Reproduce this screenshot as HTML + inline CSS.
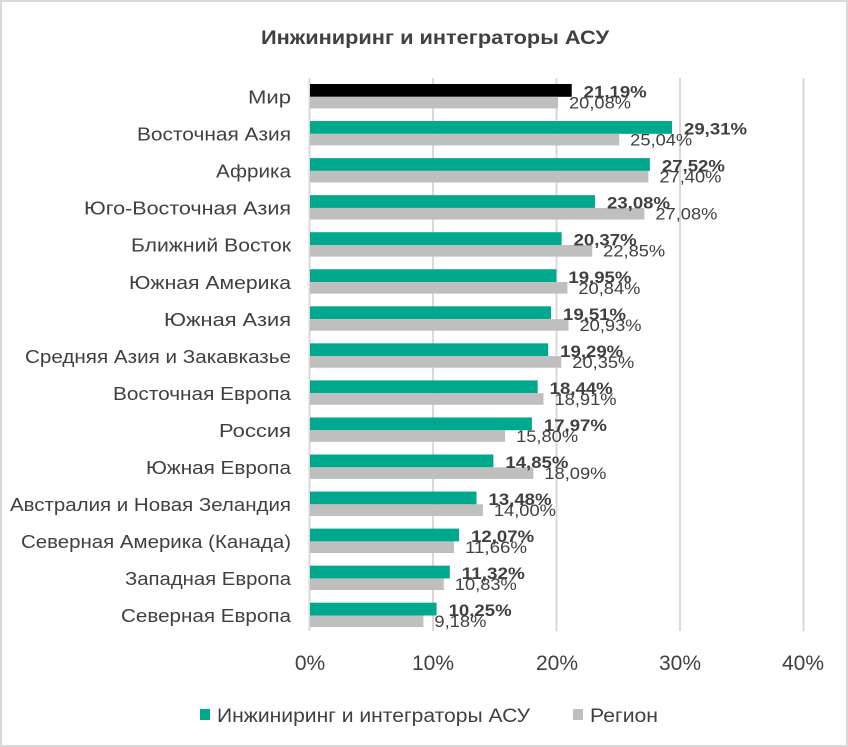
<!DOCTYPE html>
<html><head><meta charset="utf-8"><style>
html,body{margin:0;padding:0;background:#fff;}
svg{display:block;font-family:"Liberation Sans","Noto Sans CJK SC",sans-serif;}
.c{font-size:18px;fill:#404040;text-anchor:end;}
.b{font-size:17px;font-weight:bold;fill:#404040;}
.g{font-size:17px;fill:#404040;}
</style></head><body>
<svg width="848" height="747" viewBox="0 0 848 747" xmlns="http://www.w3.org/2000/svg">
<rect x="1" y="1" width="846" height="745" fill="#fff" stroke="#d9d9d9" stroke-width="2"/>
<text x="435" y="44" text-anchor="middle" font-size="19" font-weight="bold" fill="#404040" textLength="348" lengthAdjust="spacingAndGlyphs">Инжиниринг и интеграторы АСУ</text>
<g stroke="#d9d9d9" stroke-width="2">
<line x1="309.5" y1="78" x2="309.5" y2="631"/>
<line x1="433" y1="78" x2="433" y2="631"/>
<line x1="556.5" y1="78" x2="556.5" y2="631"/>
<line x1="680" y1="78" x2="680" y2="631"/>
<line x1="803.5" y1="78" x2="803.5" y2="631"/>
</g>
<g font-size="21" fill="#404040" text-anchor="middle">
<text x="310" y="670">0%</text><text x="433" y="670">10%</text><text x="557" y="670">20%</text><text x="680" y="670">30%</text><text x="803" y="670">40%</text>
</g>

<g transform="translate(0,84)"><rect x="310" y="0" width="261.7" height="12.8" fill="#000"/><rect x="310" y="12.8" width="248" height="11.6" fill="#bfbfbf"/><text class="c" x="291" y="19.5" textLength="43" lengthAdjust="spacingAndGlyphs">Мир</text><text class="b" x="583.7" y="13.5" textLength="63" lengthAdjust="spacingAndGlyphs">21,19%</text><text class="g" x="569" y="24.5" textLength="62" lengthAdjust="spacingAndGlyphs">20,08%</text></g>
<g transform="translate(0,121.05)"><rect x="310" y="0" width="362" height="12.8" fill="#00a88e"/><rect x="310" y="12.8" width="309.2" height="11.6" fill="#bfbfbf"/><text class="c" x="291" y="19.5" textLength="154" lengthAdjust="spacingAndGlyphs">Восточная Азия</text><text class="b" x="684" y="13.5" textLength="63" lengthAdjust="spacingAndGlyphs">29,31%</text><text class="g" x="630.2" y="24.5" textLength="62" lengthAdjust="spacingAndGlyphs">25,04%</text></g>
<g transform="translate(0,158.1)"><rect x="310" y="0" width="339.9" height="12.8" fill="#00a88e"/><rect x="310" y="12.8" width="338.4" height="11.6" fill="#bfbfbf"/><text class="c" x="291" y="19.5" textLength="75" lengthAdjust="spacingAndGlyphs">Африка</text><text class="b" x="661.9" y="13.5" textLength="63" lengthAdjust="spacingAndGlyphs">27,52%</text><text class="g" x="659.4" y="24.5" textLength="62" lengthAdjust="spacingAndGlyphs">27,40%</text></g>
<g transform="translate(0,195.15)"><rect x="310" y="0" width="285" height="12.8" fill="#00a88e"/><rect x="310" y="12.8" width="334.4" height="11.6" fill="#bfbfbf"/><text class="c" x="291" y="19.5" textLength="207" lengthAdjust="spacingAndGlyphs">Юго-Восточная Азия</text><text class="b" x="607" y="13.5" textLength="63" lengthAdjust="spacingAndGlyphs">23,08%</text><text class="g" x="655.4" y="24.5" textLength="62" lengthAdjust="spacingAndGlyphs">27,08%</text></g>
<g transform="translate(0,232.2)"><rect x="310" y="0" width="251.6" height="12.8" fill="#00a88e"/><rect x="310" y="12.8" width="282.2" height="11.6" fill="#bfbfbf"/><text class="c" x="291" y="19.5" textLength="160" lengthAdjust="spacingAndGlyphs">Ближний Восток</text><text class="b" x="573.6" y="13.5" textLength="63" lengthAdjust="spacingAndGlyphs">20,37%</text><text class="g" x="603.2" y="24.5" textLength="62" lengthAdjust="spacingAndGlyphs">22,85%</text></g>
<g transform="translate(0,269.25)"><rect x="310" y="0" width="246.4" height="12.8" fill="#00a88e"/><rect x="310" y="12.8" width="257.4" height="11.6" fill="#bfbfbf"/><text class="c" x="291" y="19.5" textLength="162" lengthAdjust="spacingAndGlyphs">Южная Америка</text><text class="b" x="568.4" y="13.5" textLength="63" lengthAdjust="spacingAndGlyphs">19,95%</text><text class="g" x="578.4" y="24.5" textLength="62" lengthAdjust="spacingAndGlyphs">20,84%</text></g>
<g transform="translate(0,306.3)"><rect x="310" y="0" width="241" height="12.8" fill="#00a88e"/><rect x="310" y="12.8" width="258.5" height="11.6" fill="#bfbfbf"/><text class="c" x="291" y="19.5" textLength="127" lengthAdjust="spacingAndGlyphs">Южная Азия</text><text class="b" x="563" y="13.5" textLength="63" lengthAdjust="spacingAndGlyphs">19,51%</text><text class="g" x="579.5" y="24.5" textLength="62" lengthAdjust="spacingAndGlyphs">20,93%</text></g>
<g transform="translate(0,343.35)"><rect x="310" y="0" width="238.2" height="12.8" fill="#00a88e"/><rect x="310" y="12.8" width="251.3" height="11.6" fill="#bfbfbf"/><text class="c" x="291" y="19.5" textLength="266" lengthAdjust="spacingAndGlyphs">Средняя Азия и Закавказье</text><text class="b" x="560.2" y="13.5" textLength="63" lengthAdjust="spacingAndGlyphs">19,29%</text><text class="g" x="572.3" y="24.5" textLength="62" lengthAdjust="spacingAndGlyphs">20,35%</text></g>
<g transform="translate(0,380.4)"><rect x="310" y="0" width="227.7" height="12.8" fill="#00a88e"/><rect x="310" y="12.8" width="233.5" height="11.6" fill="#bfbfbf"/><text class="c" x="291" y="19.5" textLength="178" lengthAdjust="spacingAndGlyphs">Восточная Европа</text><text class="b" x="549.7" y="13.5" textLength="63" lengthAdjust="spacingAndGlyphs">18,44%</text><text class="g" x="554.5" y="24.5" textLength="62" lengthAdjust="spacingAndGlyphs">18,91%</text></g>
<g transform="translate(0,417.45)"><rect x="310" y="0" width="221.9" height="12.8" fill="#00a88e"/><rect x="310" y="12.8" width="195.1" height="11.6" fill="#bfbfbf"/><text class="c" x="291" y="19.5" textLength="72" lengthAdjust="spacingAndGlyphs">Россия</text><text class="b" x="543.9" y="13.5" textLength="63" lengthAdjust="spacingAndGlyphs">17,97%</text><text class="g" x="516.1" y="24.5" textLength="62" lengthAdjust="spacingAndGlyphs">15,80%</text></g>
<g transform="translate(0,454.5)"><rect x="310" y="0" width="183.4" height="12.8" fill="#00a88e"/><rect x="310" y="12.8" width="223.4" height="11.6" fill="#bfbfbf"/><text class="c" x="291" y="19.5" textLength="145" lengthAdjust="spacingAndGlyphs">Южная Европа</text><text class="b" x="505.4" y="13.5" textLength="63" lengthAdjust="spacingAndGlyphs">14,85%</text><text class="g" x="544.4" y="24.5" textLength="62" lengthAdjust="spacingAndGlyphs">18,09%</text></g>
<g transform="translate(0,491.55)"><rect x="310" y="0" width="166.5" height="12.8" fill="#00a88e"/><rect x="310" y="12.8" width="172.9" height="11.6" fill="#bfbfbf"/><text class="c" x="291" y="19.5" textLength="281" lengthAdjust="spacingAndGlyphs">Австралия и Новая Зеландия</text><text class="b" x="488.5" y="13.5" textLength="63" lengthAdjust="spacingAndGlyphs">13,48%</text><text class="g" x="493.9" y="24.5" textLength="62" lengthAdjust="spacingAndGlyphs">14,00%</text></g>
<g transform="translate(0,528.6)"><rect x="310" y="0" width="149.1" height="12.8" fill="#00a88e"/><rect x="310" y="12.8" width="144" height="11.6" fill="#bfbfbf"/><text class="c" x="291" y="19.5" textLength="270" lengthAdjust="spacingAndGlyphs">Северная Америка (Канада)</text><text class="b" x="471.1" y="13.5" textLength="63" lengthAdjust="spacingAndGlyphs">12,07%</text><text class="g" x="465" y="24.5" textLength="62" lengthAdjust="spacingAndGlyphs">11,66%</text></g>
<g transform="translate(0,565.65)"><rect x="310" y="0" width="139.8" height="12.8" fill="#00a88e"/><rect x="310" y="12.8" width="133.8" height="11.6" fill="#bfbfbf"/><text class="c" x="291" y="19.5" textLength="166" lengthAdjust="spacingAndGlyphs">Западная Европа</text><text class="b" x="461.8" y="13.5" textLength="63" lengthAdjust="spacingAndGlyphs">11,32%</text><text class="g" x="454.8" y="24.5" textLength="62" lengthAdjust="spacingAndGlyphs">10,83%</text></g>
<g transform="translate(0,602.7)"><rect x="310" y="0" width="126.6" height="12.8" fill="#00a88e"/><rect x="310" y="12.8" width="113.4" height="11.6" fill="#bfbfbf"/><text class="c" x="291" y="19.5" textLength="170" lengthAdjust="spacingAndGlyphs">Северная Европа</text><text class="b" x="448.6" y="13.5" textLength="63" lengthAdjust="spacingAndGlyphs">10,25%</text><text class="g" x="434.4" y="24.5" textLength="52" lengthAdjust="spacingAndGlyphs">9,18%</text></g>

<rect x="200" y="709" width="10" height="11" fill="#00a88e"/>
<text x="217" y="722" font-size="19" fill="#404040" textLength="313" lengthAdjust="spacingAndGlyphs">Инжиниринг и интеграторы АСУ</text>
<rect x="573" y="709" width="10" height="11" fill="#bfbfbf"/>
<text x="590" y="722" font-size="19" fill="#404040" textLength="68" lengthAdjust="spacingAndGlyphs">Регион</text>
</svg>
</body></html>
